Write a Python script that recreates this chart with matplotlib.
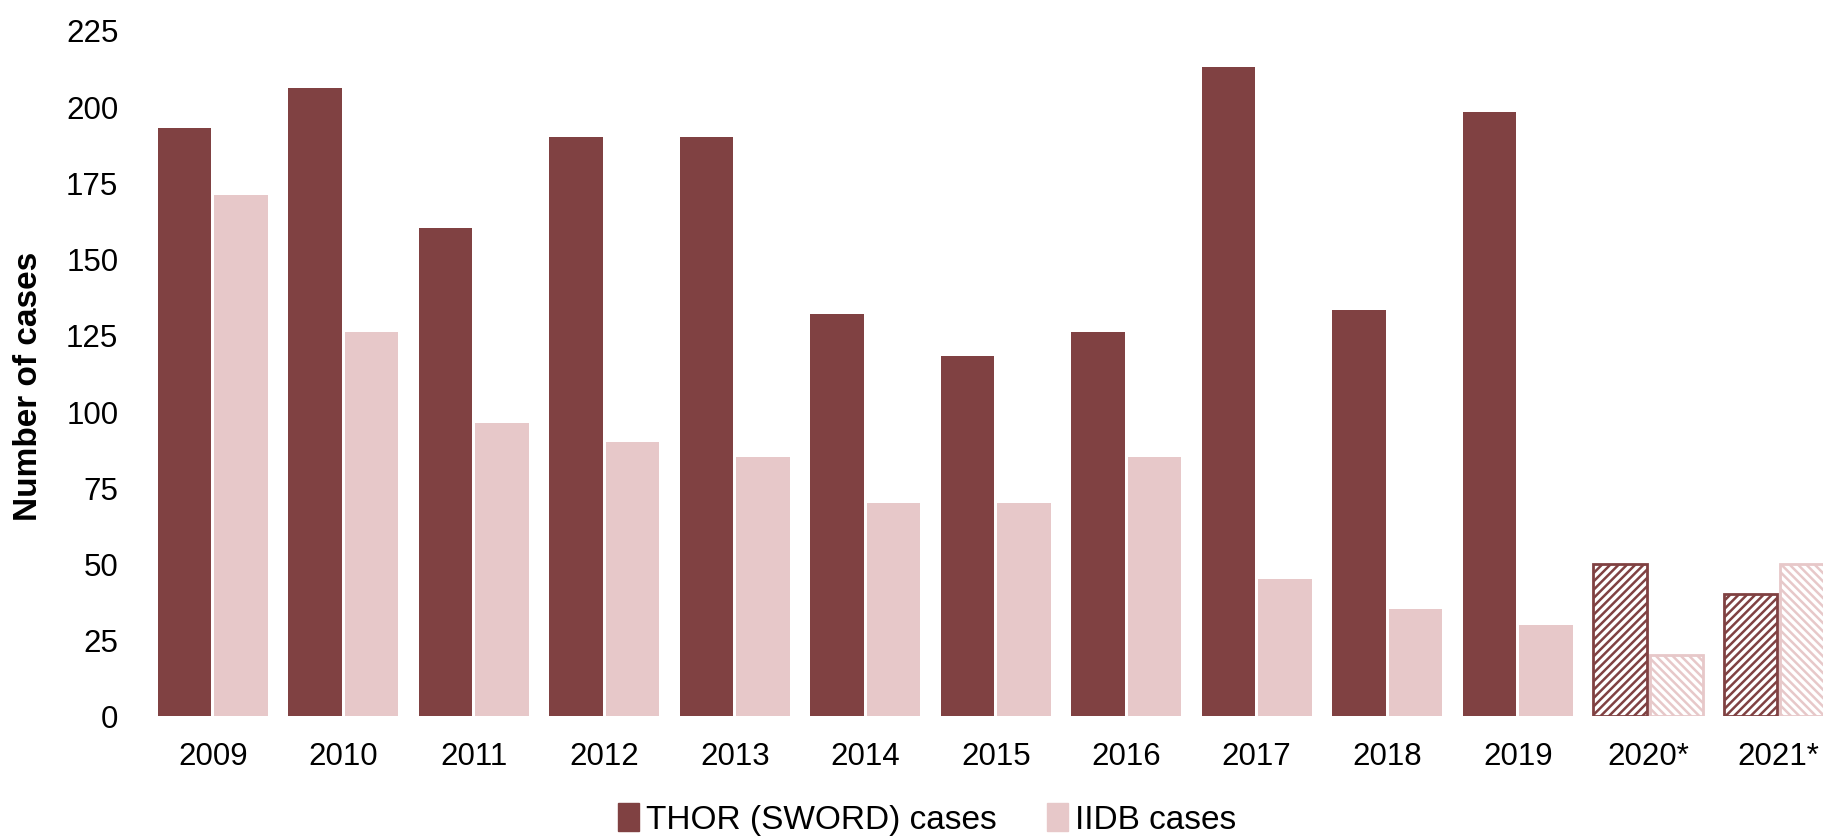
import matplotlib.pyplot as plt
import matplotlib.patches as mpatches
import numpy as np

plt.rcParams['font.family'] = ['Liberation Sans', 'DejaVu Sans']
plt.rcParams['hatch.linewidth'] = 1.8

years = ['2009', '2010', '2011', '2012', '2013', '2014', '2015',
         '2016', '2017', '2018', '2019', '2020*', '2021*']
thor_cases = [193, 206, 160, 190, 190, 132, 118, 126, 213, 133, 198, 50, 40]
iidb_cases = [171, 126, 96, 90, 85, 70, 70, 85, 45, 35, 30, 20, 50]
estimated = [False] * 11 + [True, True]

dark = '#804142'
light = '#e7c8c9'

fig = plt.figure(figsize=(18.23, 8.37), dpi=100)
ax = fig.add_axes([0.0809, 0.1434, 0.9306, 0.8196])

x = np.arange(len(years))
w = 0.41
for i in range(len(years)):
    if estimated[i]:
        # 2020/2021 are partial-year figures, drawn hatched
        ax.bar(x[i] - 0.215, thor_cases[i], w, facecolor='white', edgecolor=dark,
               hatch='////', linewidth=2)
        ax.bar(x[i] + 0.215, iidb_cases[i], w, facecolor='white', edgecolor=light,
               hatch='\\\\\\\\', linewidth=2)
    else:
        ax.bar(x[i] - 0.215, thor_cases[i], w, color=dark)
        ax.bar(x[i] + 0.215, iidb_cases[i], w, color=light)

ax.set_xlim(-0.5, 12.5)
ax.set_ylim(0, 225)
ax.set_yticks(np.arange(0, 226, 25))
ax.set_xticks(x)
ax.set_xticklabels(years)
ax.tick_params(axis='both', length=0, labelsize=22.5)
ax.tick_params(axis='y', pad=21)
ax.tick_params(axis='x', pad=18)
for s in ax.spines.values():
    s.set_visible(False)

ax.set_ylabel('Number of cases', fontsize=24, fontweight='bold')
ax.yaxis.set_label_coords(-0.061, 0.482)

handles = [mpatches.Patch(color=dark, label='THOR (SWORD) cases'),
           mpatches.Patch(color=light, label='IIDB cases')]
fig.legend(handles=handles, loc='center', bbox_to_anchor=(0.5085, 0.02), ncol=2,
           frameon=False, fontsize=24, handlelength=0.65, handleheight=0.9,
           handletextpad=0.2, columnspacing=1.5)

fig.savefig('out.png', dpi=100)
